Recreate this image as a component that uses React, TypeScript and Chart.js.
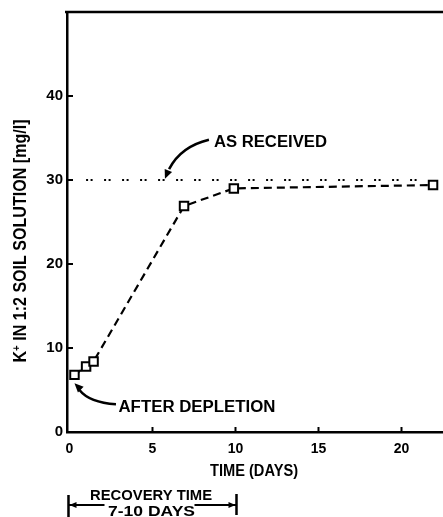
import React, { useEffect, useRef } from "react";
import { Chart, registerables } from "chart.js";

Chart.register(...registerables);

const TIME_DAYS = [0.3, 1.0, 1.45, 6.9, 9.9, 21.9];
const K_VALUES = [6.8, 7.8, 8.4, 26.9, 29.0, 29.4];
const AS_RECEIVED_X = [1.0, 21.2];
const AS_RECEIVED_Y = [30, 30];
const X_TICKS = [0, 5, 10, 15, 20];
const Y_TICKS = [0, 10, 20, 30, 40];
const X_TITLE = "TIME (DAYS)";
const Y_TITLE_PARTS = ["K", "+", " IN 1:2 SOIL SOLUTION [mg/l]"];
const LABEL_RECEIVED = "AS RECEIVED";
const LABEL_DEPLETION = "AFTER DEPLETION";
const RECOVERY_LINE1 = "RECOVERY TIME";
const RECOVERY_LINE2 = "7-10 DAYS";
const RECOVERY_RANGE = [0, 10];

const FONT = "'Liberation Sans', Arial, sans-serif";

function fitText(
  ctx: CanvasRenderingContext2D,
  text: string,
  x: number,
  y: number,
  width: number,
  size: number
) {
  ctx.save();
  ctx.font = `bold ${size}px ${FONT}`;
  const w = ctx.measureText(text).width;
  ctx.translate(x, y);
  ctx.scale(width / w, 1);
  ctx.textAlign = "left";
  ctx.textBaseline = "alphabetic";
  ctx.fillText(text, 0, 0);
  ctx.restore();
}

function arrowHead(ctx: CanvasRenderingContext2D, tx: number, ty: number, fx: number, fy: number, len: number, half: number) {
  const ang = Math.atan2(ty - fy, tx - fx);
  ctx.beginPath();
  ctx.moveTo(tx, ty);
  ctx.lineTo(tx - len * Math.cos(ang) + half * Math.sin(ang), ty - len * Math.sin(ang) - half * Math.cos(ang));
  ctx.lineTo(tx - len * Math.cos(ang) - half * Math.sin(ang), ty - len * Math.sin(ang) + half * Math.cos(ang));
  ctx.closePath();
  ctx.fill();
}

const decorPlugin = {
  id: "decor",
  afterDraw(chart: any) {
    const ctx: CanvasRenderingContext2D = chart.ctx;
    const xs = chart.scales.x;
    const ys = chart.scales.y;
    const area = chart.chartArea;
    const px = (v: number) => xs.getPixelForValue(v);
    const py = (v: number) => ys.getPixelForValue(v);
    ctx.save();
    ctx.fillStyle = "#000";
    ctx.strokeStyle = "#000";
    ctx.setLineDash([]);

    // top frame line
    ctx.lineWidth = 2.5;
    ctx.beginPath();
    ctx.moveTo(area.left - 2, area.top);
    ctx.lineTo(area.right + 2, area.top);
    ctx.stroke();

    // inward ticks
    ctx.lineWidth = 2;
    Y_TICKS.slice(1).forEach((v) => {
      ctx.beginPath();
      ctx.moveTo(area.left, py(v));
      ctx.lineTo(area.left + 6, py(v));
      ctx.stroke();
    });
    X_TICKS.slice(1).forEach((v) => {
      ctx.beginPath();
      ctx.moveTo(px(v), area.bottom);
      ctx.lineTo(px(v), area.bottom - 5);
      ctx.stroke();
    });

    // Y title
    ctx.save();
    ctx.translate(21, 241);
    ctx.rotate(-Math.PI / 2);
    const size = 18;
    ctx.font = `bold ${size}px ${FONT}`;
    const w0 = ctx.measureText(Y_TITLE_PARTS[0]).width;
    ctx.font = `bold ${size * 0.6}px ${FONT}`;
    const w1 = ctx.measureText(Y_TITLE_PARTS[1]).width;
    ctx.font = `bold ${size}px ${FONT}`;
    const w2 = ctx.measureText(Y_TITLE_PARTS[2]).width;
    const total = w0 + w1 + w2;
    const target = 243;
    ctx.scale(target / total, 1);
    ctx.textBaseline = "middle";
    ctx.textAlign = "left";
    let cx = -total / 2;
    ctx.fillText(Y_TITLE_PARTS[0], cx, 0);
    cx += w0;
    ctx.font = `bold ${size * 0.6}px ${FONT}`;
    ctx.fillText(Y_TITLE_PARTS[1], cx, -4);
    cx += w1;
    ctx.font = `bold ${size}px ${FONT}`;
    ctx.fillText(Y_TITLE_PARTS[2], cx, 0);
    ctx.restore();

    // X title
    fitText(ctx, X_TITLE, 210, 476, 88, 16);

    // AS RECEIVED label and arrow
    fitText(ctx, LABEL_RECEIVED, px(8.7), py(33.9), 113, 16);
    ctx.lineWidth = 2.5;
    ctx.beginPath();
    ctx.moveTo(px(8.4), py(34.8));
    ctx.quadraticCurveTo(px(6.7), py(34.0), px(6.0), py(31.3));
    ctx.stroke();
    arrowHead(ctx, px(5.75), py(30.15), px(6.2), py(32.3), 9, 4);

    // AFTER DEPLETION label and arrow
    fitText(ctx, LABEL_DEPLETION, px(2.95), py(2.4), 157, 16);
    ctx.beginPath();
    ctx.moveTo(px(2.8), py(3.3));
    ctx.quadraticCurveTo(px(1.2), py(3.5), px(0.6), py(5.0));
    ctx.stroke();
    arrowHead(ctx, px(0.3), py(5.8), px(1.0), py(4.4), 9, 4);

    // Recovery bracket
    const xl = px(RECOVERY_RANGE[0]) - 1;
    const xr = px(RECOVERY_RANGE[1]) + 1;
    ctx.lineWidth = 2.5;
    ctx.beginPath();
    ctx.moveTo(xl, 495);
    ctx.lineTo(xl, 517);
    ctx.moveTo(xr, 494);
    ctx.lineTo(xr, 515);
    ctx.stroke();
    ctx.lineWidth = 2;
    ctx.beginPath();
    ctx.moveTo(xl, 505);
    ctx.lineTo(xl + 36, 505);
    ctx.moveTo(xr - 42, 505);
    ctx.lineTo(xr, 505);
    ctx.stroke();
    arrowHead(ctx, xl + 1, 505, xl + 10, 505, 7, 3);
    arrowHead(ctx, xr - 1, 505, xr - 10, 505, 7, 3);
    fitText(ctx, RECOVERY_LINE1, 90, 500, 122, 14);
    fitText(ctx, RECOVERY_LINE2, 108, 516, 87, 15);

    ctx.restore();
  },
};

export default function App() {
  const ref = useRef<HTMLCanvasElement>(null);
  useEffect(() => {
    if (!ref.current) return;
    const chart = new Chart(ref.current, {
      type: "scatter",
      data: {
        datasets: [
          {
            data: AS_RECEIVED_X.map((x, i) => ({ x, y: AS_RECEIVED_Y[i] })),
            showLine: true,
            borderColor: "#000",
            borderWidth: 2.2,
            borderDash: [2, 2.5, 2, 11.5],
            pointRadius: 0,
            fill: false,
          },
          {
            data: TIME_DAYS.map((x, i) => ({ x, y: K_VALUES[i] })),
            showLine: true,
            borderColor: "#000",
            borderWidth: 2.2,
            borderDash: [8, 5],
            pointStyle: "rect",
            pointRadius: 6,
            pointBorderWidth: 2,
            pointBackgroundColor: "#fff",
            pointBorderColor: "#000",
            fill: false,
          },
        ],
      },
      options: {
        animation: false,
        responsive: false,
        maintainAspectRatio: false,
        layout: { autoPadding: false, padding: { top: 12, left: 0, right: 0, bottom: 0 } },
        plugins: { legend: { display: false }, tooltip: { enabled: false } },
        scales: {
          x: {
            type: "linear",
            min: -0.15,
            max: 22.5,
            afterBuildTicks: (s: any) => {
              s.ticks = X_TICKS.map((v) => ({ value: v }));
            },
            afterFit: (s: any) => {
              s.height = 85;
              s.paddingLeft = 0;
              s.paddingRight = 0;
            },
            grid: { drawOnChartArea: false, drawTicks: false },
            border: { display: true, color: "#000", width: 2.5 },
            ticks: {
              color: "#000",
              padding: 9,
              maxRotation: 0,
              autoSkip: false,
              font: { family: FONT, size: 14, weight: "bold" },
            },
          },
          y: {
            type: "linear",
            min: 0,
            max: 50,
            afterBuildTicks: (s: any) => {
              s.ticks = Y_TICKS.map((v) => ({ value: v }));
            },
            afterFit: (s: any) => {
              s.width = 67;
              s.paddingTop = 0;
              s.paddingBottom = 0;
            },
            grid: { drawOnChartArea: false, drawTicks: false },
            border: { display: true, color: "#000", width: 2.5 },
            ticks: {
              color: "#000",
              padding: 4,
              autoSkip: false,
              font: { family: FONT, size: 15, weight: "bold" },
            },
          },
        },
      },
      plugins: [decorPlugin],
    } as any);
    return () => chart.destroy();
  }, []);
  return (
    <div style={{ position: "fixed", left: 0, top: 0, width: 443, height: 517, background: "#fff" }}>
      <canvas ref={ref} width={443} height={517} style={{ display: "block" }} />
    </div>
  );
}
